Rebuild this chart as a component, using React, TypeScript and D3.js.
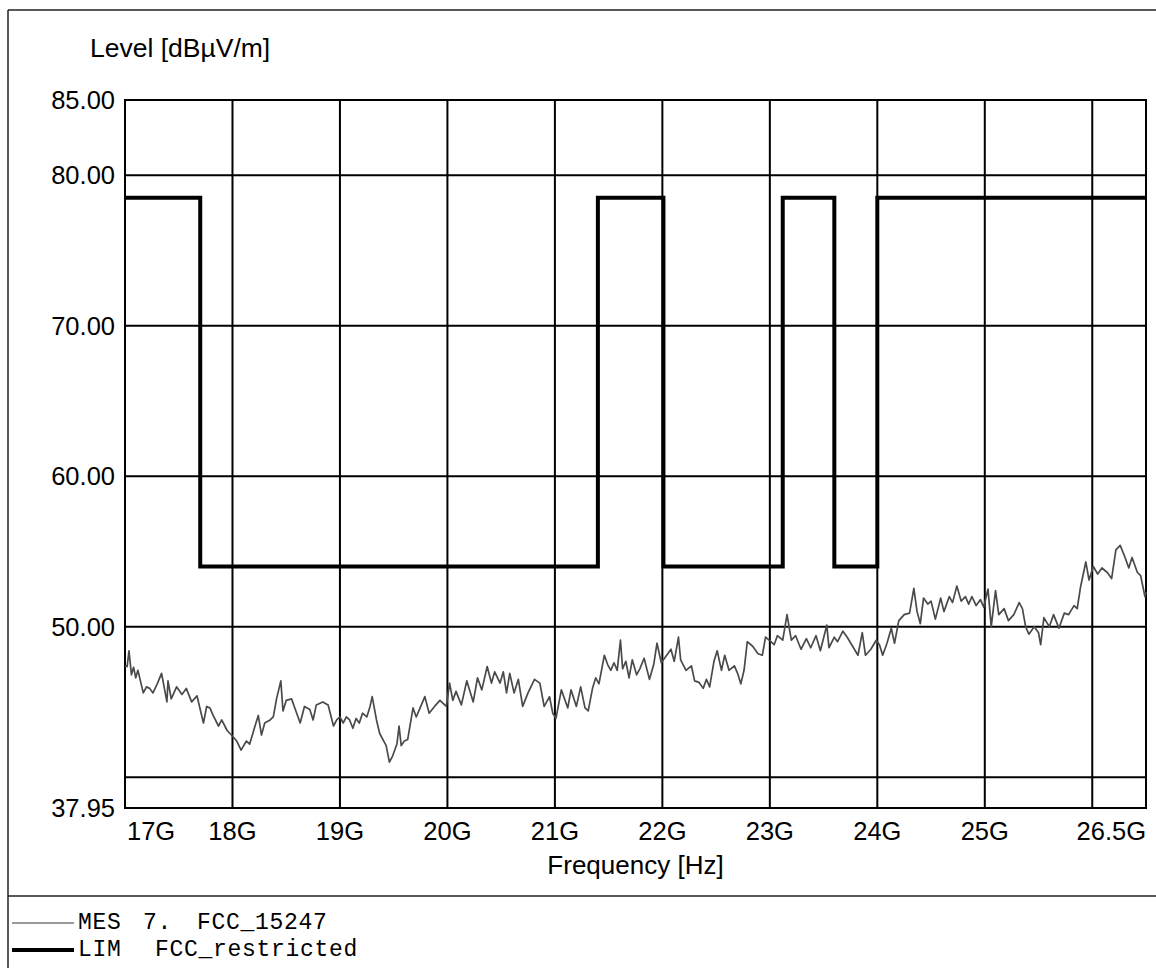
import React, { useEffect, useRef } from "react";
import * as d3 from "d3";

// limit line FCC_restricted: [frequency GHz, level dBµV/m], drawn as steps
const limitSteps: [number, number][] = [
  [17, 78.5], [17.7, 54], [21.4, 78.5], [22.01, 54], [23.12, 78.5],
  [23.6, 54], [24.0, 78.5], [26.5, 78.5],
];

const mesTrace: [number, number][] = [
  [17.0, 47.4], [17.02, 47.35], [17.037, 48.4], [17.06, 46.8], [17.08, 47.3], [17.1, 46.6], [17.12, 47.1],
  [17.14, 46.5], [17.17, 45.6], [17.2, 46.0], [17.23, 45.9], [17.26, 45.6], [17.3, 46.2], [17.34, 46.9],
  [17.39, 45.0], [17.4, 46.4], [17.43, 45.2], [17.48, 46.0], [17.53, 45.5], [17.57, 45.9], [17.62, 45.0],
  [17.67, 45.4], [17.7, 44.5], [17.73, 43.6], [17.76, 44.7], [17.79, 44.6], [17.82, 44.1], [17.87, 43.4],
  [17.9, 43.8], [17.95, 43.1], [17.99, 42.8], [18.04, 42.4], [18.08, 41.8], [18.13, 42.4], [18.16, 42.2],
  [18.21, 43.4], [18.24, 44.1], [18.27, 42.8], [18.3, 43.6], [18.35, 43.8], [18.38, 44.0], [18.41, 45.2],
  [18.45, 46.4], [18.47, 44.4], [18.5, 45.1], [18.55, 45.2], [18.58, 44.6], [18.63, 43.6], [18.67, 44.7],
  [18.72, 44.5], [18.75, 43.8], [18.78, 44.8], [18.84, 45.0], [18.89, 44.8], [18.94, 43.4], [18.97, 43.8],
  [19.0, 44.0], [19.03, 43.6], [19.06, 44.0], [19.09, 43.8], [19.12, 43.25], [19.15, 43.9], [19.18, 43.6],
  [19.21, 44.25], [19.25, 44.0], [19.28, 44.7], [19.3, 45.35], [19.34, 43.8], [19.37, 42.9], [19.4, 42.5],
  [19.43, 42.1], [19.46, 41.0], [19.49, 41.4], [19.53, 42.2], [19.55, 43.4], [19.57, 42.1], [19.6, 42.4],
  [19.63, 42.5], [19.68, 44.6], [19.71, 44.0], [19.74, 44.5], [19.79, 45.35], [19.83, 44.25], [19.88, 44.7],
  [19.93, 45.1], [19.99, 44.7], [20.02, 46.25], [20.05, 45.1], [20.08, 45.7], [20.13, 44.8], [20.18, 46.4],
  [20.24, 45.0], [20.28, 46.6], [20.32, 45.8], [20.37, 47.35], [20.41, 46.25], [20.44, 47.0], [20.49, 46.25],
  [20.52, 47.0], [20.55, 45.6], [20.58, 46.9], [20.62, 45.6], [20.66, 46.5], [20.7, 44.7], [20.75, 45.6],
  [20.81, 46.5], [20.86, 46.25], [20.9, 44.7], [20.95, 45.35], [20.98, 44.25], [21.01, 43.9], [21.06, 45.8],
  [21.12, 44.6], [21.15, 45.8], [21.2, 44.7], [21.24, 46.0], [21.28, 44.6], [21.31, 44.4], [21.35, 45.9],
  [21.38, 46.6], [21.41, 46.2], [21.46, 48.1], [21.49, 47.5], [21.52, 47.1], [21.55, 47.6], [21.58, 47.1],
  [21.61, 49.1], [21.63, 47.2], [21.66, 47.7], [21.69, 46.6], [21.72, 47.8], [21.76, 46.8], [21.79, 47.2],
  [21.83, 47.9], [21.88, 46.5], [21.92, 47.5], [21.95, 48.9], [21.99, 47.6], [22.03, 48.0], [22.08, 48.5],
  [22.11, 47.7], [22.15, 49.3], [22.17, 47.8], [22.22, 47.1], [22.27, 47.4], [22.3, 46.4], [22.34, 46.3],
  [22.38, 45.9], [22.41, 46.5], [22.44, 46.0], [22.48, 47.7], [22.51, 48.4], [22.55, 47.1], [22.58, 48.1],
  [22.62, 47.1], [22.67, 47.4], [22.7, 46.9], [22.73, 46.2], [22.76, 47.1], [22.79, 49.0], [22.84, 48.7],
  [22.89, 48.2], [22.93, 48.1], [22.96, 49.3], [23.01, 49.0], [23.04, 48.8], [23.07, 49.4], [23.12, 49.1],
  [23.16, 50.8], [23.2, 49.1], [23.24, 49.4], [23.29, 48.5], [23.34, 49.2], [23.38, 48.6], [23.43, 49.4],
  [23.47, 48.4], [23.53, 50.1], [23.55, 48.6], [23.6, 49.3], [23.63, 49.0], [23.68, 49.7], [23.72, 49.3],
  [23.77, 48.7], [23.82, 48.1], [23.86, 49.6], [23.89, 48.1], [23.94, 48.5], [23.99, 49.1], [24.02, 48.8],
  [24.05, 48.1], [24.09, 48.9], [24.13, 49.9], [24.16, 48.9], [24.2, 50.4], [24.25, 50.8], [24.3, 50.9],
  [24.34, 52.55], [24.37, 51.0], [24.4, 50.2], [24.43, 51.9], [24.47, 51.5], [24.5, 51.7], [24.54, 50.5],
  [24.59, 51.9], [24.62, 51.0], [24.67, 52.0], [24.7, 51.6], [24.74, 52.7], [24.78, 51.7], [24.82, 52.0],
  [24.85, 51.5], [24.88, 52.0], [24.92, 51.4], [24.96, 51.8], [24.99, 51.3], [25.03, 52.5], [25.06, 50.0],
  [25.1, 52.4], [25.13, 50.8], [25.18, 51.2], [25.22, 50.4], [25.27, 50.8], [25.32, 51.6], [25.35, 51.2],
  [25.38, 50.0], [25.41, 49.5], [25.46, 50.0], [25.5, 49.6], [25.52, 48.8], [25.55, 50.6], [25.6, 50.0],
  [25.64, 50.8], [25.69, 49.9], [25.74, 50.9], [25.78, 50.8], [25.83, 51.4], [25.86, 51.2], [25.89, 52.6],
  [25.94, 54.3], [25.97, 53.1], [26.01, 54.0], [26.05, 53.5], [26.09, 53.9], [26.14, 53.6], [26.18, 53.2],
  [26.22, 55.1], [26.26, 55.4], [26.3, 54.7], [26.34, 53.9], [26.37, 54.6], [26.42, 53.6], [26.45, 53.4],
  [26.49, 52.0], [26.5, 52.3],
];

const yTickValues = [85, 80, 70, 60, 50, 37.95];
const yGridValues = [80, 70, 60, 50, 40];
const xGridValues = [18, 19, 20, 21, 22, 23, 24, 25, 26];
const xTickValues = [17, 18, 19, 20, 21, 22, 23, 24, 25, 26.5];
const xTickLabels = ["17G", "18G", "19G", "20G", "21G", "22G", "23G", "24G", "25G", "26.5G"];

const legendRows = [
  { tag: "MES", parts: [["7.", 143], ["FCC_15247", 197]] as [string, number][], kind: "mes" },
  { tag: "LIM", parts: [["FCC_restricted", 155]] as [string, number][], kind: "lim" },
];

export default function App() {
  const divRef = useRef<HTMLDivElement>(null);

  useEffect(() => {
    if (!divRef.current) return;
    document.body.style.margin = "0";
    const W = 1156, H = 968;
    const left = 125, right = 1146, top = 100, bottom = 808;
    const sans = "'Liberation Sans', Arial, sans-serif";
    const mono = "'Liberation Mono', 'Courier New', monospace";

    const svg = d3
      .select(divRef.current)
      .append("svg")
      .attr("width", W)
      .attr("height", H)
      .style("display", "block")
      .style("background", "#fff");

    const x = d3.scaleLinear().domain([17, 26.5]).range([left, right]);
    const y = d3.scaleLinear().domain([37.95, 85]).range([bottom, top]);

    // outer frame + legend separator
    svg.append("line").attr("x1", 8).attr("x2", W).attr("y1", 10).attr("y2", 10)
      .attr("stroke", "#222").attr("stroke-width", 1.5);
    svg.append("line").attr("x1", 8).attr("x2", 8).attr("y1", 10).attr("y2", H)
      .attr("stroke", "#222").attr("stroke-width", 1.5);
    svg.append("line").attr("x1", 8).attr("x2", W).attr("y1", 896).attr("y2", 896)
      .attr("stroke", "#222").attr("stroke-width", 1.5);

    // grid
    svg.selectAll(".hg").data(yGridValues).enter().append("line")
      .attr("x1", left).attr("x2", right)
      .attr("y1", (d) => y(d)).attr("y2", (d) => y(d))
      .attr("stroke", "#000").attr("stroke-width", 2);
    svg.selectAll(".vg").data(xGridValues).enter().append("line")
      .attr("x1", (d) => x(d)).attr("x2", (d) => x(d))
      .attr("y1", top).attr("y2", bottom)
      .attr("stroke", "#000").attr("stroke-width", 2);
    svg.append("rect").attr("x", left).attr("y", top)
      .attr("width", right - left).attr("height", bottom - top)
      .attr("fill", "none").attr("stroke", "#000").attr("stroke-width", 2);

    // y labels
    svg.selectAll(".yl").data(yTickValues).enter().append("text")
      .attr("x", 115).attr("y", (d) => y(d) + 9)
      .attr("text-anchor", "end").attr("font-family", sans).attr("font-size", 25.5)
      .text((d) => d.toFixed(2));

    // x labels
    svg.selectAll(".xl").data(xTickValues).enter().append("text")
      .attr("x", (d, i) => (i === 0 ? left + 2 : i === xTickValues.length - 1 ? right : x(d)))
      .attr("y", 840)
      .attr("text-anchor", (d, i) => (i === 0 ? "start" : i === xTickValues.length - 1 ? "end" : "middle"))
      .attr("font-family", sans).attr("font-size", 25.5)
      .text((d, i) => xTickLabels[i]);

    svg.append("text").attr("x", 90).attr("y", 57)
      .attr("font-family", sans).attr("font-size", 26.5).text("Level [dBµV/m]");
    svg.append("text").attr("x", (left + right) / 2).attr("y", 874)
      .attr("text-anchor", "middle").attr("font-family", sans).attr("font-size", 26)
      .text("Frequency [Hz]");

    // measured trace
    const line = d3.line<[number, number]>().x((d) => x(d[0])).y((d) => y(d[1]));
    svg.append("path").attr("d", line(mesTrace))
      .attr("fill", "none").attr("stroke", "#4a4a4a").attr("stroke-width", 1.7)
      .attr("stroke-linejoin", "round");

    // limit
    const step = d3.line<[number, number]>().x((d) => x(d[0])).y((d) => y(d[1])).curve(d3.curveStepAfter);
    svg.append("path").attr("d", step(limitSteps))
      .attr("fill", "none").attr("stroke", "#000").attr("stroke-width", 4);

    // legend
    legendRows.forEach((row, i) => {
      const ly = 923 + i * 27;
      svg.append("line").attr("x1", 12).attr("x2", 74).attr("y1", ly).attr("y2", ly)
        .attr("stroke", row.kind === "mes" ? "#777" : "#000")
        .attr("stroke-width", row.kind === "mes" ? 1.5 : 4);
      svg.append("text").attr("x", 78).attr("y", ly + 6)
        .attr("font-family", mono).attr("font-size", 23).attr("letter-spacing", 0.7)
        .text(row.tag);
      row.parts.forEach(([t, px]) => {
        svg.append("text").attr("x", px).attr("y", ly + 6)
          .attr("font-family", mono).attr("font-size", 23).attr("letter-spacing", 0.7)
          .text(t);
      });
    });

    return () => {
      if (divRef.current) divRef.current.innerHTML = "";
    };
  }, []);

  return <div ref={divRef}></div>;
}
